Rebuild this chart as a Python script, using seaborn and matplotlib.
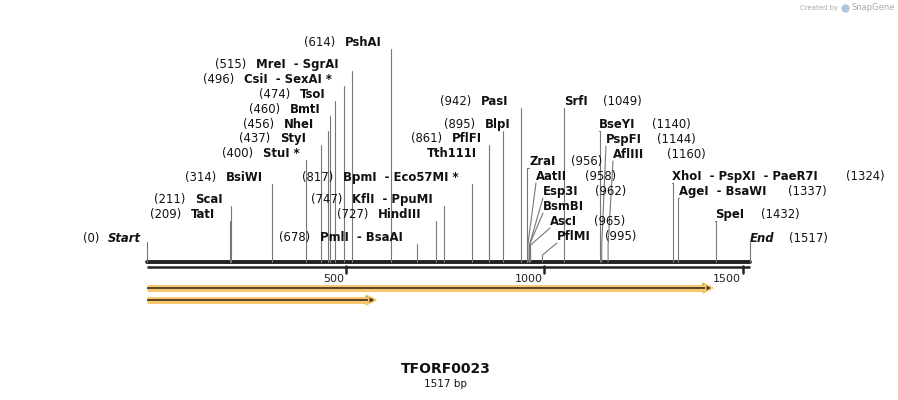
import matplotlib
matplotlib.use("Agg")
import matplotlib.pyplot as plt
import seaborn as sns
import pandas as pd

sns.set_style("white")
plt.rcParams['font.family'] = ['DejaVu Sans']

seq_len = 1517
# left-group labels: "(pos)  Name"
left_names = ["TatI", "ScaI", "BsiWI", "StuI *", "StyI", "NheI", "BmtI", "TsoI",
              "CsiI  - SexAI *", "MreI  - SgrAI", "PshAI", "PmlI  - BsaAI", "HindIII",
              "KflI  - PpuMI", "BpmI  - Eco57MI *", "Tth111I", "PflFI", "BlpI", "PasI"]
left_pos = [209, 211, 314, 400, 437, 456, 460, 474, 496, 515, 614, 678, 727, 747, 817, 861, 861, 895, 942]
left_shownum = [1, 1, 1, 1, 1, 1, 1, 1, 1, 1, 1, 1, 1, 1, 1, 0, 1, 1, 1]
# right-group labels: "Name  (pos)"
right_names = ["SrfI", "ZraI", "AatII", "Esp3I", "BsmBI", "AscI", "PflMI", "BseYI", "PspFI",
               "AflIII", "XhoI  - PspXI  - PaeR7I", "AgeI  - BsaWI", "SpeI"]
right_pos = [1049, 956, 958, 962, 962, 965, 995, 1140, 1144, 1160, 1324, 1337, 1432]
right_shownum = [1, 1, 1, 1, 0, 1, 1, 1, 1, 1, 1, 1, 1]
ticks = [500, 1000, 1500]
features = [(0, 1416), (0, 569)]

# layout (pixel coords)
left_y = [214, 199, 177, 153, 138, 124, 109, 94, 79, 64, 42, 237, 214, 199, 177, 153, 138, 124, 101]
left_x = [191, 195, 226, 263, 280, 284, 290, 300, 244, 256, 345, 320, 378, 352, 343, 427, 452, 485, 481]
right_y = [101, 161, 176, 191, 206, 221, 236, 124, 139, 154, 176, 191, 214]
right_x = [564, 529, 536, 543, 543, 550, 557, 599, 606, 613, 672, 679, 715]
right_nx = [603, 571, 585, 595, 0, 594, 605, 652, 657, 667, 846, 788, 761]

W, H = 898, 400
x0, x1 = 147, 750
k = (x1 - x0) / seq_len
def px(bp):
    return x0 + bp * k

fig = plt.figure(figsize=(8.98, 4.0), dpi=100)
ax = fig.add_axes([0, 0, 1, 1])
ax.set_xlim(0, W)
ax.set_ylim(H, 0)
ax.axis("off")

FS = 8.4
BO = 4  # baseline offset
lc = "#777777"
def label(x, y, s, ha="left", **kw):
    ax.text(x, y + BO, s, ha=ha, va="baseline", fontsize=FS, color="#111111", **kw)

# backbone
bb = pd.DataFrame({"x": [px(0), px(seq_len)], "y": [262, 262]})
sns.lineplot(data=bb, x="x", y="y", ax=ax, color="#222222", linewidth=2.8)
ax.plot([px(0), px(seq_len)], [266.5, 266.5], color="#222222", lw=1.8, solid_capstyle="butt")
for t in ticks:
    ax.plot([px(t), px(t)], [266, 273], color="#222222", lw=1.8)
    ax.text(px(t) - 2, 274, str(t), ha="right", va="top", fontsize=8, color="#222222")
# start / end
ax.plot([px(0)] * 2, [262, 242], color=lc, lw=0.8)
ax.plot([px(seq_len)] * 2, [262, 242], color=lc, lw=0.8)
label(141, 238, "Start", ha="right", weight="bold", style="italic")
label(99, 238, "(0)", ha="right")
label(750, 238, "End", weight="bold", style="italic")
label(789, 238, "(1517)")

for n, p, s, y, x in zip(left_names, left_pos, left_shownum, left_y, left_x):
    sx = px(p)
    ax.plot([sx, sx], [262, y + 7], color=lc, lw=0.8)
    label(x, y, n, weight="bold")
    if s:
        label(x - 10, y, f"({p})", ha="right")

for n, p, s, y, x, nx in zip(right_names, right_pos, right_shownum, right_y, right_x, right_nx):
    sx = px(p)
    bend = max(y + 20, 245) if abs(sx - x) > 4 else y + 7
    bend = min(bend, 255)
    ax.plot([sx, sx, x], [262, bend, y + 7], color=lc, lw=0.8)
    label(x, y, n, weight="bold")
    if s:
        label(nx, y, f"({p})")

# features
for (a, b), y in zip(features, [288, 300]):
    xa, xb = px(a), px(b)
    ax.plot([xa, xb - 4], [y, y], color="#f7c66e", lw=5, solid_capstyle="butt")
    ax.fill([xb - 7, xb + 3, xb - 7], [y - 5, y, y + 5], color="#f7c66e")
    ax.plot([xa, xb - 5], [y, y], color="#4a3a20", lw=1.3, solid_capstyle="butt")
    ax.fill([xb - 7, xb, xb - 7], [y - 3, y, y + 3], color="#4a3a20")

ax.text(446, 369, "TFORF0023", ha="center", va="center", fontsize=10, weight="bold", color="#111111")
ax.text(446, 384, "1517 bp", ha="center", va="center", fontsize=7.5, color="#111111")
ax.text(838, 8, "Created by", ha="right", va="center", fontsize=5, color="#aaaaaa")
ax.text(852, 8, "SnapGene", ha="left", va="center", fontsize=6, color="#aaaaaa")
ax.plot([845], [8], marker="o", ms=5, color="#aac8e0")

fig.savefig("out.png", dpi=100)
